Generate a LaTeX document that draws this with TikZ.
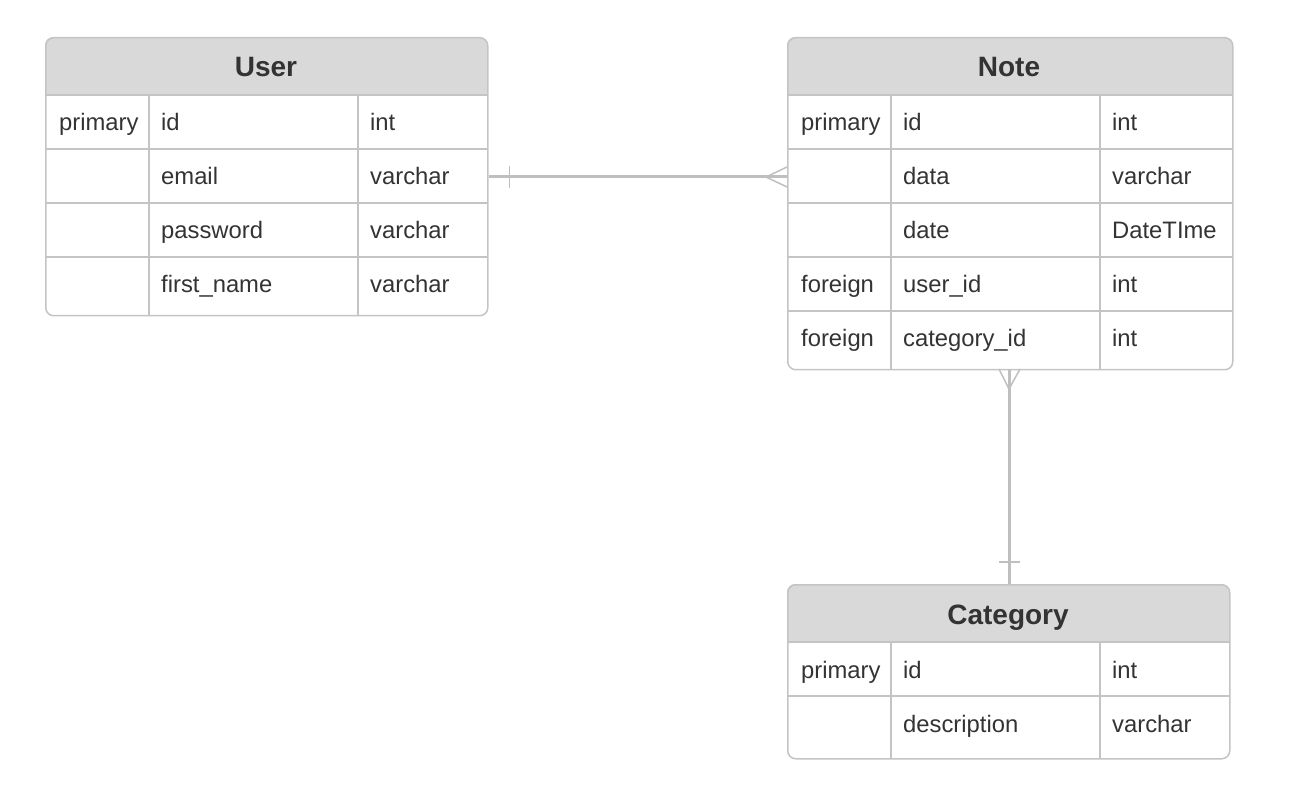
\documentclass[tikz,border=0pt]{standalone}
\usepackage{fontspec}
\setmainfont{Liberation Sans}
\usetikzlibrary{calc}
\definecolor{lineg}{HTML}{C4C4C4}
\definecolor{headg}{HTML}{D9D9D9}
\definecolor{txtg}{HTML}{333333}
\definecolor{conng}{HTML}{BFBFBF}
\tikzset{
  tablebox/.style={draw=lineg, line width=1.5pt, rounded corners=8pt, anchor=north west, inner sep=0pt},
  grid/.style={draw=lineg, line width=1.5pt},
  cell/.style={anchor=base west, inner sep=0pt, text=txtg, font=\fontsize{23.8}{28}\selectfont},
  title/.style={anchor=base, inner sep=0pt, text=txtg, font=\fontsize{28}{32}\selectfont\bfseries},
  conn/.style={draw=conng, line width=3pt},
  thinconn/.style={draw=conng, line width=1.5pt}
}
\begin{document}
\begin{tikzpicture}[x=1pt,y=-1pt]
\useasboundingbox (0,0) rectangle (1298,799);
% ---------- User ----------
\begin{scope}
\clip[rounded corners=8pt] (45,37) rectangle (487,315);
\fill[headg] (45,37) rectangle (487,95);
\end{scope}
\draw[grid] (45,95) -- (487,95) (45,149) -- (487,149) (45,203) -- (487,203) (45,257) -- (487,257);
\draw[grid] (149,95) -- (149,315) (358,95) -- (358,315);
\node[tablebox, minimum width=442pt, minimum height=278pt] (user) at (45,37) {};
\node[title] (utitle) at (266,77) {User};
\node[cell] (u1a) at (59,131) {primary};
\node[cell] (u1b) at (161,131) {id};
\node[cell] (u1c) at (370,131) {int};
\node[cell] (u2b) at (161,185) {email};
\node[cell] (u2c) at (370,185) {varchar};
\node[cell] (u3b) at (161,239) {password};
\node[cell] (u3c) at (370,239) {varchar};
\node[cell] (u4b) at (161,293) {first\_name};
\node[cell] (u4c) at (370,293) {varchar};
% ---------- Note ----------
\begin{scope}
\clip[rounded corners=8pt] (787,37) rectangle (1232,369);
\fill[headg] (787,37) rectangle (1232,95);
\end{scope}
\draw[grid] (787,95) -- (1232,95) (787,149) -- (1232,149) (787,203) -- (1232,203) (787,257) -- (1232,257) (787,311) -- (1232,311);
\draw[grid] (891,95) -- (891,369) (1100,95) -- (1100,369);
\node[tablebox, minimum width=445pt, minimum height=332pt] (note) at (787,37) {};
\node[title] (ntitle) at (1009,77) {Note};
\node[cell] (n1a) at (801,131) {primary};
\node[cell] (n1b) at (903,131) {id};
\node[cell] (n1c) at (1112,131) {int};
\node[cell] (n2b) at (903,185) {data};
\node[cell] (n2c) at (1112,185) {varchar};
\node[cell] (n3b) at (903,239) {date};
\node[cell] (n3c) at (1112,239) {DateTIme};
\node[cell] (n4a) at (801,293) {foreign};
\node[cell] (n4b) at (903,293) {user\_id};
\node[cell] (n4c) at (1112,293) {int};
\node[cell] (n5a) at (801,347) {foreign};
\node[cell] (n5b) at (903,347) {category\_id};
\node[cell] (n5c) at (1112,347) {int};
% ---------- Category ----------
\begin{scope}
\clip[rounded corners=8pt] (787,584) rectangle (1229,758);
\fill[headg] (787,584) rectangle (1229,642);
\end{scope}
\draw[grid] (787,642) -- (1229,642) (787,696) -- (1229,696);
\draw[grid] (891,642) -- (891,758) (1100,642) -- (1100,758);
\node[tablebox, minimum width=442pt, minimum height=174pt] (cat) at (787,584) {};
\node[title] (ctitle) at (1008,624) {Category};
\node[cell] (c1a) at (801,678) {primary};
\node[cell] (c1b) at (903,678) {id};
\node[cell] (c1c) at (1112,678) {int};
\node[cell] (c2b) at (903,732) {description};
\node[cell] (c2c) at (1112,732) {varchar};
% ---------- connectors ----------
\coordinate (ua) at (user.east |- 0,177);
\coordinate (nb) at (note.west |- 0,177);
\draw[conn] (ua) -- (nb);
\draw[thinconn] ($(ua)+(21,-11)$) -- ($(ua)+(21,11)$);
\draw[thinconn] ($(nb)+(0,-10)$) -- ($(nb)+(-21,0)$) -- ($(nb)+(0,10)$);
\coordinate (nc) at (1009,369);
\coordinate (cd) at (1009,584);
\draw[conn] (nc) -- (cd);
\draw[thinconn] ($(nc)+(-10,0)$) -- ($(nc)+(0,20)$) -- ($(nc)+(11,0)$);
\draw[thinconn] ($(cd)+(-10,-22)$) -- ($(cd)+(11,-22)$);
\end{tikzpicture}
\end{document}
